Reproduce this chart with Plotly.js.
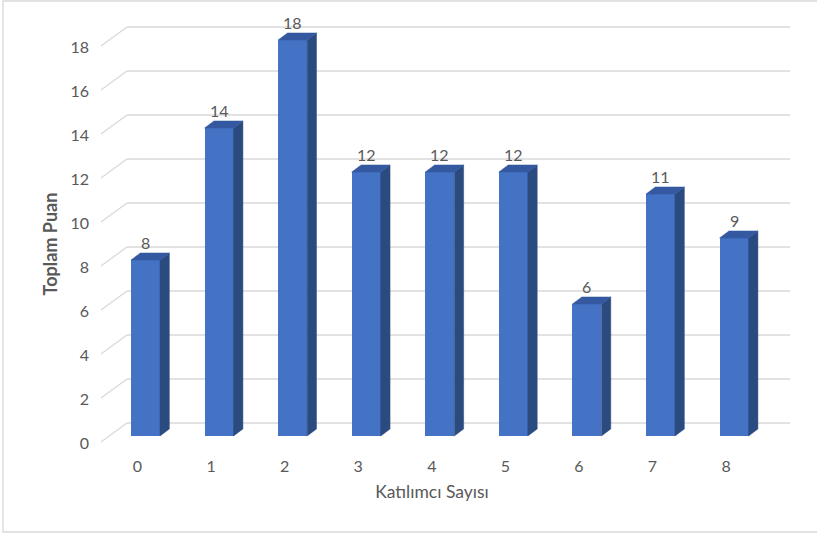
<!DOCTYPE html>
<html>
<head>
<meta charset="utf-8">
<script src="https://cdn.plot.ly/plotly-3.0.1.min.js"></script>
<style>
html,body{margin:0;padding:0;background:#fff;}
#chart{width:817px;height:533px;}
</style>
</head>
<body>
<div id="chart"></div>
<script>
// ---- data ----
const categories = ['0','1','2','3','4','5','6','7','8'];
const values = [8, 14, 18, 12, 12, 12, 6, 11, 9];
const yTicks = [0, 2, 4, 6, 8, 10, 12, 14, 16, 18];
const xTitle = 'Katılımcı Sayısı';
const yTitle = 'Toplam Puan';

// ---- style ----
const FRONT = '#4472C4', SIDE = '#2B4B80', TOP = '#3559A0';
const GRID = '#D9D9D9', TXT = '#595959';
const FONT = 'Lato, "Open Sans", sans-serif';
const barW = 0.394, depthX = 0.127, depthY = 0.32;
const wallX = -0.2515, wallY = 0.59, tickStartX = -0.605, tickStartY = -0.27;
const xMin = -0.972, xMax = 8.76;

const xPos = categories.map((c, i) => i);

// side faces & top faces
const sideX = [], sideY = [], topX = [], topY = [];
xPos.forEach((x, i) => {
  const v = values[i], r = x + barW / 2, l = x - barW / 2;
  sideX.push(r, r + depthX, r + depthX, r, r, null);
  sideY.push(0, depthY, v + depthY, v, 0, null);
  topX.push(l, l + depthX, r + depthX, r, l, null);
  topY.push(v, v + depthY, v + depthY, v, v, null);
});

const traces = [
  {type: 'bar', x: xPos, y: values, width: barW,
   marker: {color: FRONT, line: {width: 0}}, hoverinfo: 'skip'},
  {type: 'scatter', mode: 'lines', x: sideX, y: sideY, fill: 'toself',
   fillcolor: SIDE, line: {color: SIDE, width: 0.5}, hoverinfo: 'skip'},
  {type: 'scatter', mode: 'lines', x: topX, y: topY, fill: 'toself',
   fillcolor: TOP, line: {color: TOP, width: 0.5}, hoverinfo: 'skip'}
];

// back-wall gridlines and floor diagonals
const shapes = [];
yTicks.forEach(t => {
  shapes.push({type: 'line', xref: 'x', yref: 'y', layer: 'below',
    x0: wallX, x1: xMax, y0: t + wallY, y1: t + wallY,
    line: {color: GRID, width: 1.3}});
  shapes.push({type: 'line', xref: 'x', yref: 'y', layer: 'below',
    x0: tickStartX, x1: wallX, y0: t + tickStartY, y1: t + wallY,
    line: {color: GRID, width: 1.3}});
});
// outer chart border
shapes.push({type: 'rect', xref: 'paper', yref: 'paper',
  x0: (3 - 74) / 716, x1: (818 - 74) / 716,
  y0: (468 - 532) / 448, y1: (468 - 1) / 448,
  line: {color: GRID, width: 1.3}, fillcolor: 'rgba(0,0,0,0)'});

const annotations = xPos.map((x, i) => ({
  x: x, y: values[i], xref: 'x', yref: 'y', text: String(values[i]),
  showarrow: false, yanchor: 'middle', yshift: 18,
  font: {family: FONT, size: 16, color: TXT}
}));

const layout = {
  width: 817, height: 533,
  margin: {l: 74, r: 27, t: 20, b: 65},
  paper_bgcolor: '#fff', plot_bgcolor: 'rgba(0,0,0,0)',
  showlegend: false, bargap: 0,
  font: {family: FONT, color: TXT},
  xaxis: {
    range: [xMin, xMax], tickvals: xPos, ticktext: categories,
    showgrid: false, zeroline: false, showline: false, ticks: '',
    anchor: 'free', position: (468 - 445) / 448,
    tickfont: {family: FONT, size: 16, color: TXT},
    ticklabelshift: -8, ticklabelstandoff: 10,
    title: {text: xTitle, font: {family: FONT, size: 17.5, color: TXT}, standoff: 11},
    fixedrange: true
  },
  yaxis: {
    range: [-1.4545, 18.909], tickvals: yTicks,
    showgrid: false, zeroline: false, showline: false, ticks: '',
    anchor: 'free', position: (101 - 74) / 716,
    tickfont: {family: FONT, size: 16, color: TXT},
    ticklabelshift: 7, ticklabelstandoff: 12,
    title: {text: '<b>' + yTitle + '</b>', font: {family: FONT, size: 18, color: TXT}, standoff: 7},
    fixedrange: true
  },
  shapes: shapes,
  annotations: annotations
};

Plotly.newPlot('chart', traces, layout, {displayModeBar: false, staticPlot: true});
</script>
</body>
</html>
